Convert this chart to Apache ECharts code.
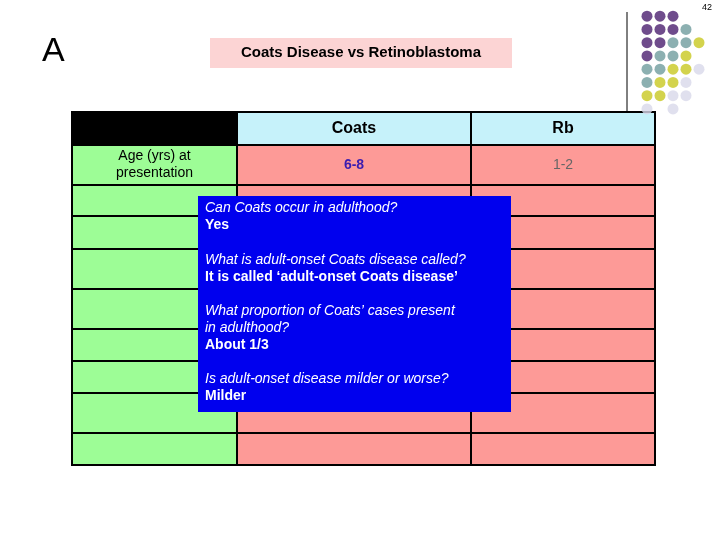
<!DOCTYPE html>
<html>
<head>
<meta charset="utf-8">
<script src="https://cdn.jsdelivr.net/npm/echarts@6/dist/echarts.min.js"></script>
<style>html,body{margin:0;padding:0;background:#fff}#main{width:720px;height:540px}</style>
</head>
<body>
<div id="main"></div>
<script>
// table contents
var colHeads = ['', 'Coats', 'Rb'];
var rowLabels = ['Age (yrs) at\npresentation', '', '', '', '', '', '', '', ''];
var coatsVals = ['6-8', '', '', '', '', '', '', '', ''];
var rbVals = ['1-2', '', '', '', '', '', '', '', ''];
// decorative dots: [col, row, colourIndex]
var dotColors = ['#4b1f6f', '#6f9c9e', '#c8c820', '#d8d8ea'];
var dots = [
  [0,0,0],[1,0,0],[2,0,0],
  [0,1,0],[1,1,0],[2,1,0],[3,1,1],
  [0,2,0],[1,2,0],[2,2,1],[3,2,1],[4,2,2],
  [0,3,0],[1,3,1],[2,3,1],[3,3,2],
  [0,4,1],[1,4,1],[2,4,2],[3,4,2],[4,4,3],
  [0,5,1],[1,5,2],[2,5,2],[3,5,3],
  [0,6,2],[1,6,2],[2,6,3],[3,6,3],
  [0,7,3],[2,7,3]
];
var popup = [
  ['Can Coats occur in adulthood?', 'Yes'],
  ['What is adult-onset Coats disease called?', 'It is called \u2018adult-onset Coats disease\u2019'],
  ['What proportion of Coats\u2019 cases present\nin adulthood?', 'About 1/3'],
  ['Is adult-onset disease milder or worse?', 'Milder']
];

var colX = [72, 237, 471, 655];
var rowY = [112, 145, 185, 216, 249, 289, 329, 361, 393, 433, 465];
var font = 'Liberation Sans, Arial, sans-serif';
var g = [];
// header row
for (var c = 0; c < 3; c++) {
  g.push({type:'rect', shape:{x:colX[c], y:rowY[0], width:colX[c+1]-colX[c], height:rowY[1]-rowY[0]},
    style:{fill: c === 0 ? '#000' : '#c6f2fa', stroke:'#000', lineWidth:2}});
  if (colHeads[c]) g.push({type:'text', x:(colX[c]+colX[c+1])/2, y:(rowY[0]+rowY[1])/2,
    style:{text:colHeads[c], fill:'#000', font:'bold 16px '+font, align:'center', verticalAlign:'middle'}});
}
for (var r = 0; r < rowLabels.length; r++) {
  var y0 = rowY[r+1], y1 = rowY[r+2];
  var fills = ['#9dfd96', '#fd9a97', '#fd9a97'];
  var texts = [rowLabels[r], coatsVals[r], rbVals[r]];
  var tstyle = [
    {fill:'#000', font:'14px '+font},
    {fill:'#3a1cb0', font:'bold 14px '+font},
    {fill:'#666', font:'14px '+font}
  ];
  for (var c = 0; c < 3; c++) {
    g.push({type:'rect', shape:{x:colX[c], y:y0, width:colX[c+1]-colX[c], height:y1-y0},
      style:{fill:fills[c], stroke:'#000', lineWidth:2}});
    if (texts[c]) g.push({type:'text', x:(colX[c]+colX[c+1])/2, y:(y0+y1)/2,
      style:{text:texts[c], fill:tstyle[c].fill, font:tstyle[c].font, align:'center', verticalAlign:'middle', lineHeight:17}});
  }
}
// blue popup
g.push({type:'rect', shape:{x:198, y:196, width:313, height:216}, style:{fill:'#0000ee'}});
var py = [200, 252, 303, 371];
for (var i = 0; i < popup.length; i++) {
  g.push({type:'text', x:205, y:py[i], style:{text:popup[i][0], fill:'#fff', font:'italic 14px '+font, lineHeight:17}});
  var nl = popup[i][0].split('\n').length;
  g.push({type:'text', x:205, y:py[i] + 17*nl, style:{text:popup[i][1], fill:'#fff', font:'bold 14px '+font, lineHeight:17}});
}
// title and decorations
g.push({type:'rect', shape:{x:210, y:38, width:302, height:30}, style:{fill:'#fcd4d4'}});
g.push({type:'text', x:361, y:53, style:{text:'Coats Disease vs Retinoblastoma', fill:'#000', font:'bold 15px '+font, align:'center', verticalAlign:'middle'}});
g.push({type:'text', x:42, y:52, style:{text:'A', fill:'#000', font:'34px '+font, verticalAlign:'middle'}});
g.push({type:'text', x:712, y:8, style:{text:'42', fill:'#000', font:'9px '+font, align:'right', verticalAlign:'middle'}});
g.push({type:'line', shape:{x1:627, y1:12, x2:627, y2:112}, style:{stroke:'#000', lineWidth:1}});

var chart = echarts.init(document.getElementById('main'));
chart.setOption({
  animation: false,
  grid: {left: 640.5, top: 9.5, width: 65, height: 106},
  xAxis: {type:'value', min:-0.5, max:4.5, show:false},
  yAxis: {type:'value', min:-0.5, max:7.5, inverse:true, show:false},
  series: [{
    type: 'scatter', symbolSize: 11, silent: true,
    data: dots.map(function (d) { return {value:[d[0], d[1]], itemStyle:{color:dotColors[d[2]]}}; })
  }],
  graphic: g
});
</script>
</body>
</html>
